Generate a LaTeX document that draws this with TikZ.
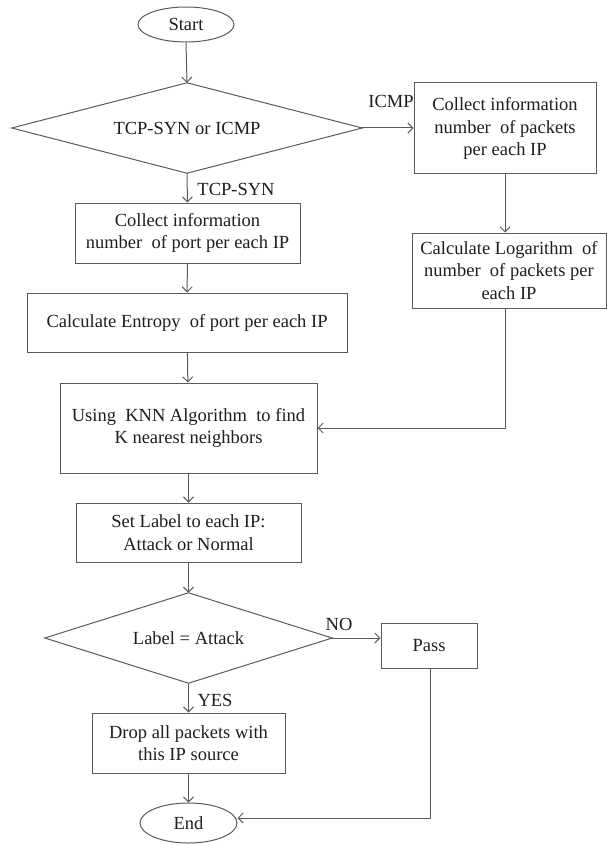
\documentclass[tikz,border=0pt]{standalone}
\usepackage{fontspec}
\setmainfont{Liberation Serif}
\usetikzlibrary{shapes.geometric,arrows.meta}
\definecolor{linegray}{HTML}{5A5A5A}
\definecolor{inkgray}{HTML}{1E1E1E}
\begin{document}
\begin{tikzpicture}[x=1pt,y=-1pt,
  every node/.style={font=\fontsize{18.5}{22.5}\selectfont, text=inkgray, align=center, inner sep=0pt},
  procbox/.style={draw=linegray, line width=1pt, rectangle},
  decide/.style={rectangle},
  rhomb/.style={draw=linegray, line width=1pt},
  term/.style={draw=linegray, line width=1pt, ellipse},
  flow/.style={draw=linegray, line width=1pt, -{Straight Barb[length=5pt,width=10pt]}},
  tag/.style={font=\fontsize{18.5}{22}\selectfont}]
\useasboundingbox (0,0) rectangle (607,845);

% main column
\node[term, minimum width=96, minimum height=35] (start) at (186,24.5) {Start};
\node[decide, minimum width=350, minimum height=90] (d1) at (187,128) {TCP-SYN or ICMP};
\node[procbox, minimum width=225, minimum height=60] (tcp) at (187.5,233)
  {Collect information\\number~ of port per each IP};
\node[procbox, minimum width=320, minimum height=59] (ent) at (187,322.5)
  {Calculate Entropy~ of port per each IP};
\node[procbox, minimum width=257, minimum height=90] (knn) at (188.5,428)
  {Using~ KNN Algorithm~ to find\\K nearest neighbors};
\node[procbox, minimum width=225, minimum height=59] (lab) at (188.5,532.5)
  {Set Label to each IP:\\Attack or Normal};
\node[decide, minimum width=287, minimum height=90] (d2) at (188.5,638) {Label = Attack};
\node[procbox, minimum width=193, minimum height=60] (drop) at (188.5,743)
  {Drop all packets with\\this IP source};
\node[term, minimum width=97, minimum height=40] (end) at (188.5,823) {End};

% decision outlines
\draw[rhomb] (d1.west) -- (d1.north) -- (d1.east) -- (d1.south) -- cycle;
\draw[rhomb] (d2.west) -- (d2.north) -- (d2.east) -- (d2.south) -- cycle;

% ICMP branch
\node[procbox, minimum width=182, minimum height=91] (icmp) at (505,128.5)
  {Collect information\\number~ of packets\\per each IP};
\node[procbox, minimum width=194, minimum height=75] (log) at (509,270.5)
  {Calculate Logarithm~ of\\number~ of packets per\\each IP};
\node[procbox, minimum width=96, minimum height=45] (pass) at (429,645.5) {Pass};

% branch labels
\node[tag] (licmp) at (391,101) {ICMP};
\node[tag] (ltcp) at (236,189) {TCP-SYN};
\node[tag] (lno) at (339,624) {NO};
\node[tag] (lyes) at (215,700) {YES};

% connectors
\draw[flow] (start.south) -- (d1.north);
\draw[flow] (d1.east) -- (icmp.west |- d1.east);
\draw[flow] (d1.south) -- (tcp.north);
\draw[flow] (tcp) -- (ent);
\draw[flow] (ent) -- (knn);
\draw[flow] (icmp.south) -- (icmp.south |- log.north);
\draw[flow] (icmp.south |- log.south) -- (icmp.south |- knn.east) -- (knn.east);
\draw[flow] (knn) -- (lab);
\draw[flow] (lab.south) -- (d2.north);
\draw[flow] (d2.east) -- (pass.west |- d2.east);
\draw[flow] (d2.south) -- (drop.north);
\draw[flow] (drop) -- (end);
\coordinate (bend) at ([xshift=1pt]pass.south |- 0,818);
\draw[flow] (pass.south -| bend) -- (bend) -- (end.east |- bend);
\end{tikzpicture}
\end{document}
